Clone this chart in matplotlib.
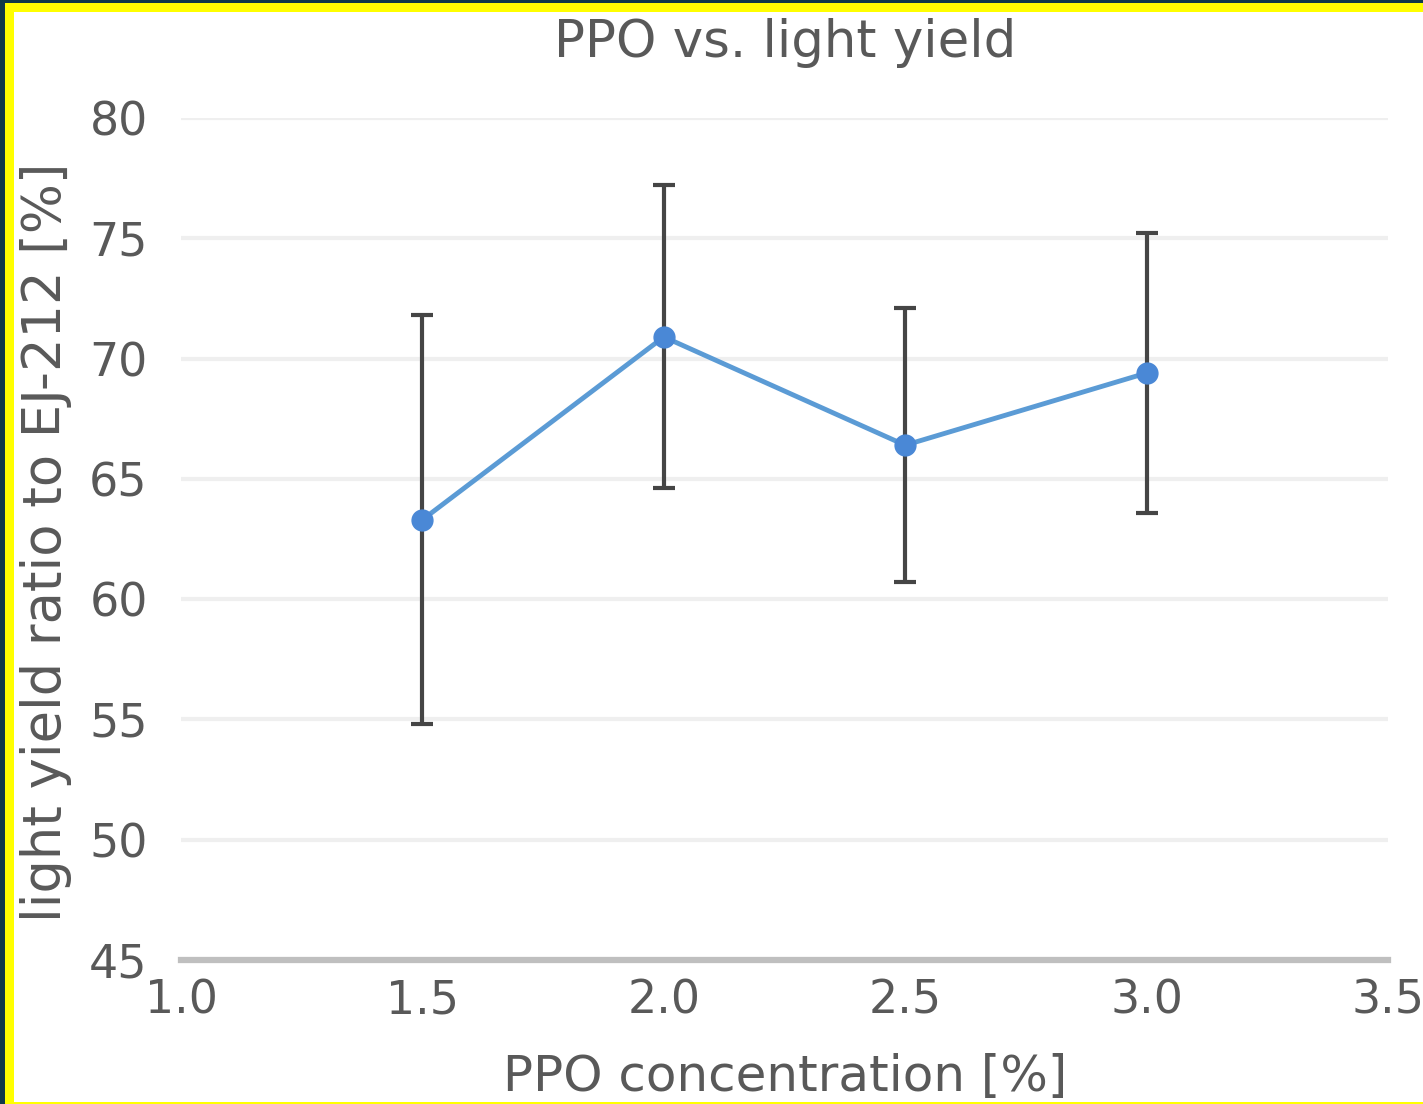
import matplotlib
matplotlib.use("Agg")
import matplotlib.pyplot as plt
from matplotlib.patches import Rectangle

plt.rcParams["font.family"] = ["DejaVu Sans"]

ppo = [1.5, 2.0, 2.5, 3.0]
light_yield = [63.3, 70.9, 66.4, 69.4]
yerr = [8.5, 6.3, 5.7, 5.8]

x_ticks = [1.0, 1.5, 2.0, 2.5, 3.0, 3.5]
y_ticks = [45, 50, 55, 60, 65, 70, 75, 80]

text_color = "#595959"

fig = plt.figure(figsize=(14.23, 11.04), dpi=100)
fig.patch.set_facecolor("white")

# frame around the screenshot (dark edge + yellow border on top/left)
fig.patches.append(Rectangle((0, 0), 1, 1, transform=fig.transFigure,
                             facecolor="#0f3a48", edgecolor="none", zorder=-3))
fig.patches.append(Rectangle((5 / 1423, 0), 1, 1 - 3 / 1104, transform=fig.transFigure,
                             facecolor="#ffff00", edgecolor="none", zorder=-2))
fig.patches.append(Rectangle((14 / 1423, 2 / 1104), 1, 1 - 14 / 1104, transform=fig.transFigure,
                             facecolor="white", edgecolor="none", zorder=-1))

ax = fig.add_axes([181 / 1423, 1 - 960 / 1104, 1207 / 1423, 842 / 1104])
ax.set_facecolor("none")

ax.errorbar(ppo, light_yield, yerr=yerr, fmt="none", ecolor="#454545",
            elinewidth=3, capsize=8, capthick=3, zorder=2)
ax.plot(ppo, light_yield, color="#5b9bd5", lw=3.5, zorder=3)
ax.plot(ppo, light_yield, "o", color="#4a88d6", ms=15, mec="#4a88d6", zorder=4)

ax.set_xlim(1.0, 3.5)
ax.set_ylim(45, 80)
ax.set_xticks(x_ticks)
ax.set_yticks(y_ticks)
ax.set_xticklabels([f"{v:.1f}" for v in x_ticks])
ax.yaxis.grid(True, color="#efefef", lw=3)
ax.set_axisbelow(True)

for s in ["top", "right", "left"]:
    ax.spines[s].set_visible(False)
ax.spines["bottom"].set_color("#bfbfbf")
ax.spines["bottom"].set_linewidth(4.5)

ax.tick_params(axis="both", length=0, labelsize=33, colors=text_color)
ax.tick_params(axis="x", pad=13)
ax.tick_params(axis="y", pad=24)

fig.text(785 / 1423, 1 - 43 / 1104, "PPO vs. light yield", ha="center", va="center",
         fontsize=37, color=text_color)
fig.text(785 / 1423, 1 - 1077 / 1104, "PPO concentration [%]", ha="center", va="center",
         fontsize=36, color=text_color)
fig.text(46 / 1423, 1 - 542 / 1104, "light yield ratio to EJ-212 [%]", ha="center",
         va="center", rotation=90, fontsize=38, color=text_color)

fig.savefig("out.png", dpi=100)
